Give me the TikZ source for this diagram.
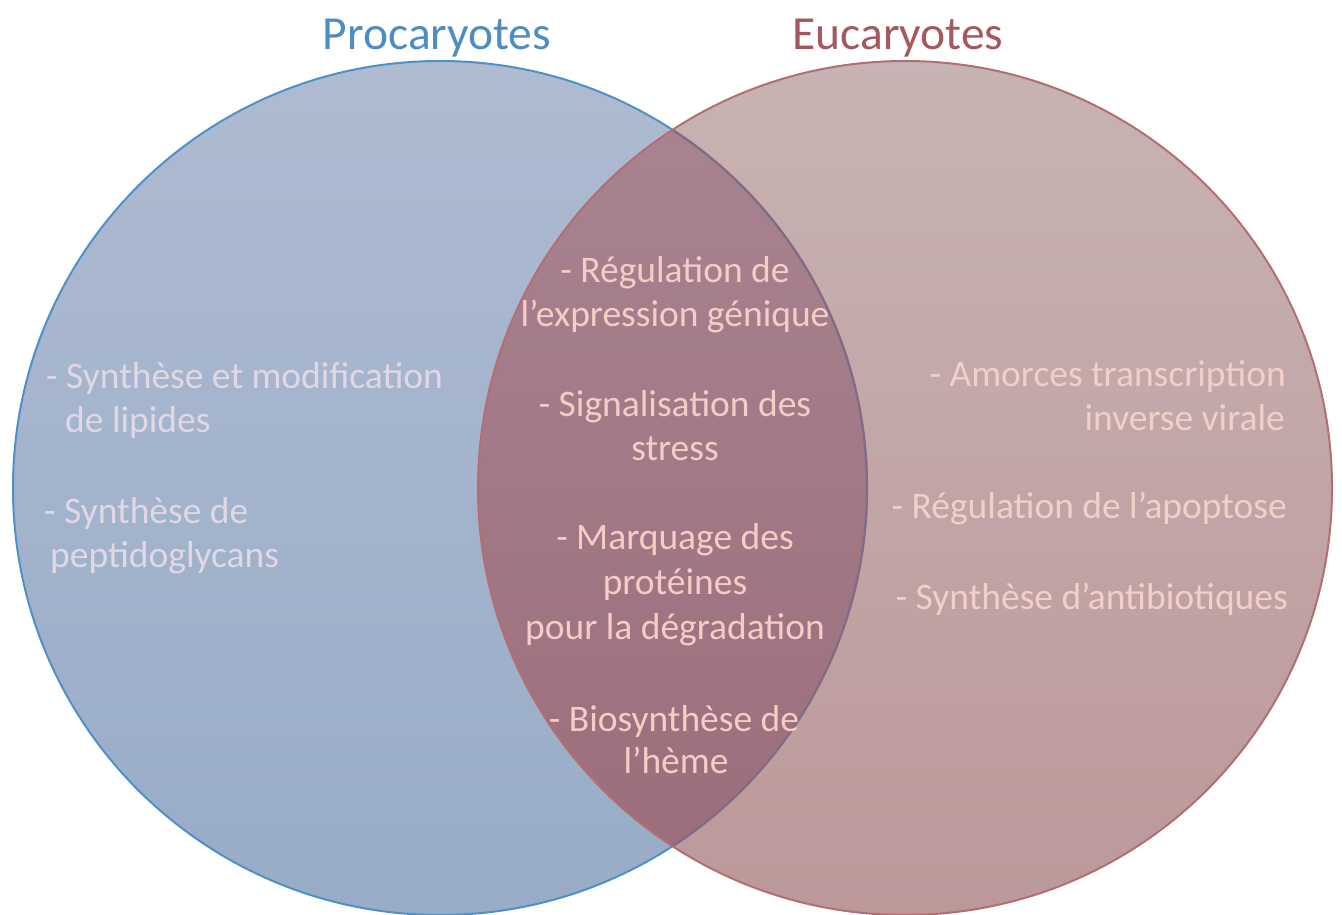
\documentclass[tikz,border=0pt]{standalone}
\usepackage{fontspec}
\setmainfont{Carlito}
\definecolor{bluetop}{RGB}{174,187,209}
\definecolor{bluebot}{RGB}{152,172,199}
\definecolor{redtop}{RGB}{199,179,179}
\definecolor{redbot}{RGB}{188,152,153}
\definecolor{lenstop}{RGB}{168,133,146}
\definecolor{lensbot}{RGB}{156,108,122}
\definecolor{blueline}{RGB}{78,145,200}
\definecolor{bluelineunder}{RGB}{135,105,130}
\definecolor{redline}{RGB}{178,110,115}
\definecolor{protitle}{RGB}{78,140,196}
\definecolor{eutitle}{RGB}{165,88,94}
\definecolor{lefttext}{RGB}{224,216,228}
\definecolor{midtext}{RGB}{246,204,198}
\definecolor{righttext}{RGB}{242,208,202}
\begin{document}
\begin{tikzpicture}[x=1pt,y=1pt,
  titletext/.style={font=\fontsize{47.5}{56}\selectfont, inner sep=0pt, anchor=base},
  itemtext/.style={font=\fontsize{37.5}{45}\selectfont, inner sep=0pt},
  midline/.style={itemtext, text=midtext, anchor=base},
  leftline/.style={itemtext, text=lefttext, anchor=base west},
  rightline/.style={itemtext, text=righttext, anchor=base east},
]
\useasboundingbox (0,0) rectangle (1342,-915);
% circles
\shade[top color=bluetop,bottom color=bluebot] (440,-488) circle[radius=427];
\shade[top color=redtop,bottom color=redbot] (905,-488) circle[radius=427];
\begin{scope}
  \clip (905,-488) circle[radius=427];
  \shade[top color=lenstop,bottom color=lensbot] (440,-488) circle[radius=427];
\end{scope}
\draw[blueline, line width=2] (440,-488) circle[radius=427];
\begin{scope}
  \clip (905,-488) circle[radius=427];
  \draw[bluelineunder, line width=2.2] (440,-488) circle[radius=427];
\end{scope}
\draw[redline, line width=2] (905,-488) circle[radius=427];
% titles
\node[titletext, text=protitle] (pro) at (437,-50) {Procaryotes};
\node[titletext, text=eutitle] (eu) at (898,-50) {Eucaryotes};
% left
\node[leftline] (l1) at (66,-388) {\llap{-\ }Synthèse et modification};
\node[leftline] (l2) at (65,-432) {de lipides};
\node[leftline] (l3) at (44,-523) {- Synthèse de};
\node[leftline] (l4) at (50,-567) {peptidoglycans};
% middle
\node[midline] (m1) at (675,-282) {- Régulation de};
\node[midline] (m2) at (675,-326) {l’expression génique};
\node[midline] (m3) at (675,-416) {- Signalisation des};
\node[midline] (m4) at (675,-460) {stress};
\node[midline] (m5) at (675,-549) {- Marquage des};
\node[midline] (m6) at (675,-594) {protéines};
\node[midline] (m7) at (675,-639) {pour la dégradation};
\node[midline] (m8) at (674,-731) {- Biosynthèse de};
\node[midline] (m9) at (676,-773) {l’hème};
% right
\node[rightline] (r1) at (1286,-386) {- Amorces transcription};
\node[rightline] (r2) at (1285,-430) {inverse virale};
\node[rightline] (r3) at (1287,-518) {- Régulation de l’apoptose};
\node[rightline] (r4) at (1288,-609) {- Synthèse d’antibiotiques};
\end{tikzpicture}
\end{document}
